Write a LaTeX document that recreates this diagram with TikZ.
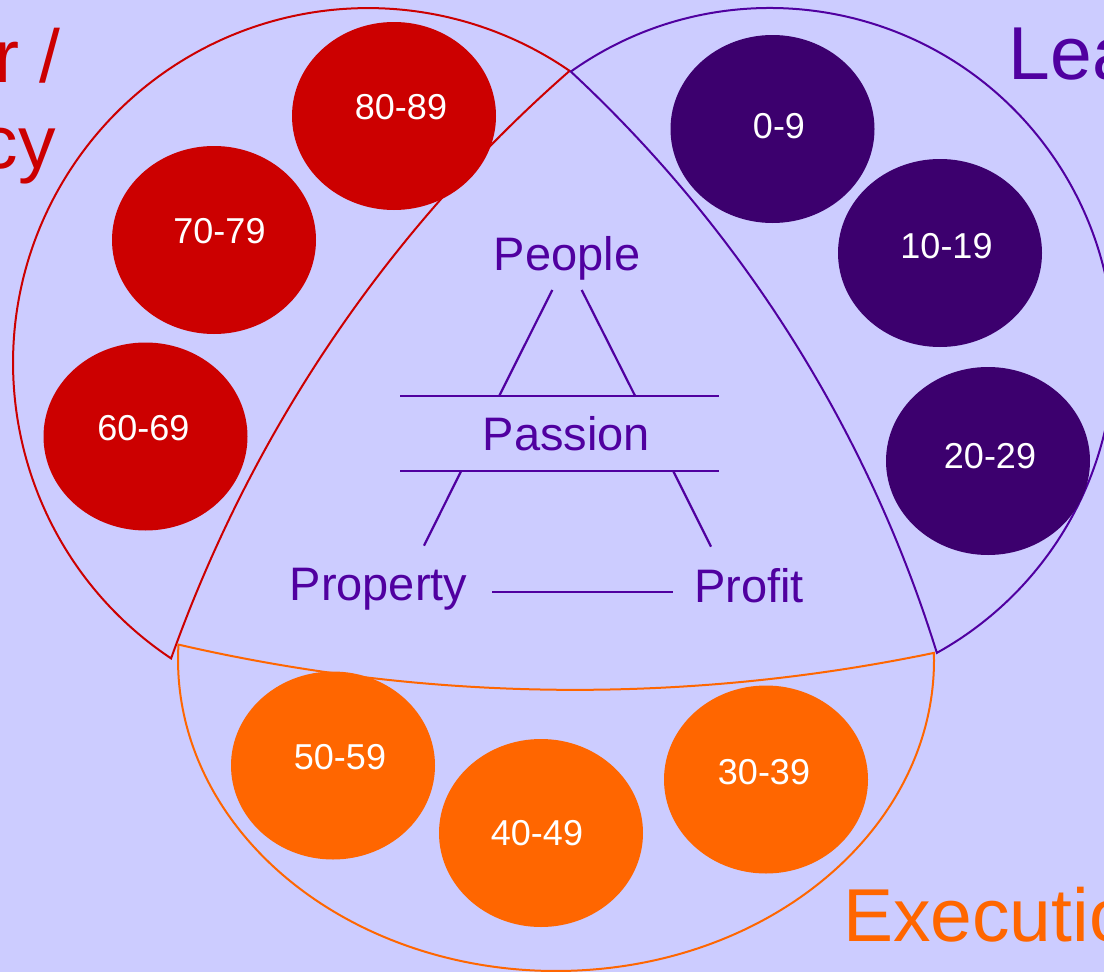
\documentclass[tikz,border=0pt]{standalone}
\usepackage{fontspec}
\setmainfont{Liberation Sans}
\usetikzlibrary{shapes.geometric}
\definecolor{bg}{HTML}{CCCCFF}
\definecolor{redc}{HTML}{CC0000}
\definecolor{purp}{HTML}{5000A0}
\definecolor{dpurp}{HTML}{3C006E}
\definecolor{orng}{HTML}{FF6600}
\begin{document}
\begin{tikzpicture}[x=1pt,y=1pt,yscale=-1,
  blob/.style={ellipse, minimum width=204pt, minimum height=188pt, inner sep=0pt, draw=none},
  numlbl/.style={text=white, font=\fontsize{36}{40}\selectfont, inner sep=0pt, anchor=base},
  ctr/.style={text=purp, font=\fontsize{47}{52}\selectfont, inner sep=0pt, anchor=base},
  ttl/.style={font=\fontsize{75}{80}\selectfont, inner sep=0pt},
  seg/.style={draw=purp, line width=2.2pt},
  sector/.style={line width=2pt, line join=miter}]
\useasboundingbox (0,0) rectangle (1104,972);
\fill[bg] (0,0) rectangle (1104,972);

% sector outlines
\draw[sector, draw=redc] (171.1,658.4) arc[start angle=123.7, end angle=304.6, radius=355]
  .. controls (389.1,228.7) and (252.5,430.2) .. cycle;
\draw[sector, draw=purp] (570.8,71.6) arc[start angle=234.6, end angle=421.0, radius=344]
  .. controls (867.9,430.6) and (741.7,230.4) .. cycle;
\draw[sector, draw=orng] (933.9,652.9) arc[start angle=-1.31, end angle=182.84, x radius=378, y radius=311]
  .. controls (427.2,702.0) and (684.0,704.8) .. cycle;

% titles (cut by the frame)
\node[ttl, text=redc, anchor=base east] (t1) at (61,82) {r /};
\node[ttl, text=redc, anchor=base east] (t2) at (56,168) {cy};
\node[ttl, text=purp, anchor=base west] (t3) at (1008.5,79) {Lea};
\node[ttl, text=orng, anchor=base west] (t4) at (843,941) {Executio};

% ellipses
\node[blob, fill=redc] (e80) at (394,116) {};
\node[blob, fill=redc] (e70) at (214,240) {};
\node[blob, fill=redc] (e60) at (145.5,436.5) {};
\node[blob, fill=dpurp] (e0) at (772.5,129) {};
\node[blob, fill=dpurp] (e10) at (940,253) {};
\node[blob, fill=dpurp] (e20) at (988,461) {};
\node[blob, fill=orng] (e50) at (333,765.5) {};
\node[blob, fill=orng] (e40) at (541,833) {};
\node[blob, fill=orng] (e30) at (766,779.5) {};

\node[numlbl] (l80) at (401,119) {80-89};
\node[numlbl] (l70) at (219.5,243) {70-79};
\node[numlbl] (l60) at (143.5,440) {60-69};
\node[numlbl] (l0) at (779,138) {0-9};
\node[numlbl] (l10) at (946.5,258) {10-19};
\node[numlbl] (l20) at (990,468) {20-29};
\node[numlbl] (l50) at (340,769) {50-59};
\node[numlbl] (l40) at (537,845.5) {40-49};
\node[numlbl] (l30) at (764,784) {30-39};

% central labels
\node[ctr] (people) at (567,270) {People};
\node[ctr] (passion) at (566.5,450) {Passion};
\node[ctr] (property) at (378.5,600.7) {Property};
\node[ctr] (profit) at (749,602.7) {Profit};

% central lines
\coordinate (ptl) at (400,395.7); \coordinate (ptr) at (719,395.7);
\coordinate (pbl) at (400,471.3); \coordinate (pbr) at (719,471.3);
\coordinate (pe1) at (552.3,290); \coordinate (pe1b) at (499.3,395.7);
\coordinate (pe2) at (581.7,290); \coordinate (pe2b) at (635,395.7);
\coordinate (lo1) at (461,471.3); \coordinate (lo1b) at (424,545.7);
\coordinate (lo2) at (673.3,471.3); \coordinate (lo2b) at (711,546.7);
\coordinate (hp1) at (492.3,591.7); \coordinate (hp2) at (672.7,591.7);
\draw[seg] (ptl) -- (ptr);
\draw[seg] (pbl) -- (pbr);
\draw[seg] (pe1) -- (pe1b);
\draw[seg] (pe2) -- (pe2b);
\draw[seg] (lo1) -- (lo1b);
\draw[seg] (lo2) -- (lo2b);
\draw[seg] (hp1) -- (hp2);
\end{tikzpicture}
\end{document}
